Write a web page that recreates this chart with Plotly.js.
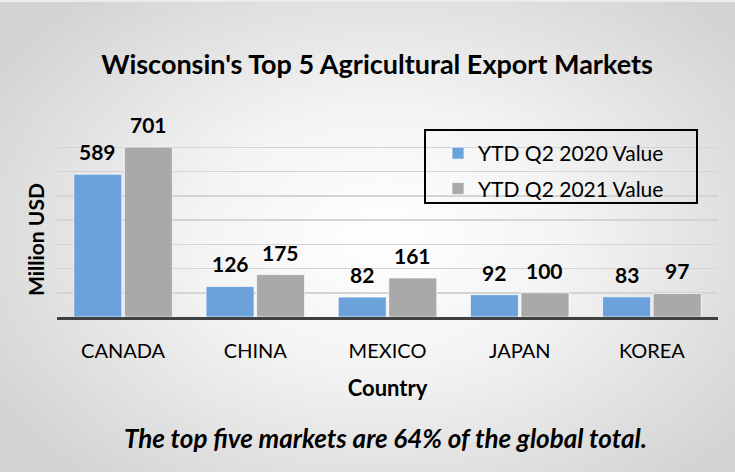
<!DOCTYPE html>
<html>
<head>
<meta charset="utf-8">
<script src="https://cdn.plot.ly/plotly-3.0.1.min.js"></script>
<style>
  html, body { margin: 0; padding: 0; background: #ffffff; }
  #wrap {
    position: absolute; left: 0; top: 0; width: 735px; height: 472px;
    background: radial-gradient(ellipse 62% 68% at 52% 50%, #ffffff 0%, #f4f4f4 40%, #d3d3d3 100%);
    border-top: 2px solid #ececec; box-sizing: border-box;
  }
  #chart { position: absolute; left: 0; top: -2px; width: 735px; height: 472px; }
</style>
</head>
<body>
<div id="wrap"><div id="chart"></div></div>
<script>
// ---- data ----
const categories = ['CANADA', 'CHINA', 'MEXICO', 'JAPAN', 'KOREA'];
const seriesNames = ['YTD Q2 2020 Value', 'YTD Q2 2021 Value'];
const values2020 = [589, 126, 82, 92, 83];
const values2021 = [701, 175, 161, 100, 97];
const yTickValues = [0, 100, 200, 300, 400, 500, 600, 700, 800];

const chartTitle = "Wisconsin's Top 5 Agricultural Export Markets";
const xTitle = 'Country';
const yTitle = 'Million USD';
const footnote = 'The top five markets are 64% of the global total.';

// ---- style ----
const colors = ['#6ca2db', '#a9a9a9'];
const FONT = 'Lato, "Open Sans", sans-serif';
const W = 735, H = 472;
const margin = {l: 57, r: 17, t: 123, b: 155};
const bargap = 0.235, bargroupgap = 0.05;

const plotW = W - margin.l - margin.r;
const plotH = H - margin.t - margin.b;
const catW = plotW / categories.length;
const slot = catW * (1 - bargap) / 2;
const px = x => (x - margin.l) / plotW;
const py = y => (H - margin.b - y) / plotH;

const traces = [values2020, values2021].map((vals, i) => ({
  type: 'bar',
  name: seriesNames[i],
  x: categories,
  y: vals,
  legendgroup: 'g' + i,
  marker: {color: colors[i], line: {color: 'rgba(255,255,255,0.7)', width: 1}},
  hoverinfo: 'skip'
}));

const annotations = [];
[values2020, values2021].forEach((vals, i) => {
  vals.forEach((v, j) => {
    annotations.push({
      x: categories[j], y: v, xref: 'x', yref: 'y',
      xshift: (i === 0 ? -1 : 1) * slot / 2,
      yshift: 8,
      text: String(v), showarrow: false, yanchor: 'bottom',
      font: {family: FONT, size: 21, color: '#000', weight: 'bold'}
    });
  });
});
annotations.push({
  text: '<b><i>' + footnote + '</i></b>',
  xref: 'paper', yref: 'paper', x: px(385), y: py(438),
  xanchor: 'center', yanchor: 'middle', showarrow: false,
  font: {family: FONT, size: 26, color: '#000'}
});
annotations.push({
  text: '<b>' + yTitle + '</b>',
  xref: 'paper', yref: 'paper', x: px(35), y: py(240),
  xanchor: 'center', yanchor: 'middle', textangle: -90, showarrow: false,
  font: {family: FONT, size: 21, color: '#000'}
});

const layout = {
  width: W, height: H, margin: margin,
  paper_bgcolor: 'rgba(0,0,0,0)', plot_bgcolor: 'rgba(0,0,0,0)',
  barmode: 'group', bargap: bargap, bargroupgap: bargroupgap,
  font: {family: FONT, color: '#000'},
  title: {
    text: '<b>' + chartTitle + '</b>',
    x: 377 / W, xanchor: 'center', y: 1 - 65 / H, yanchor: 'middle',
    font: {family: FONT, size: 27, color: '#000'}
  },
  xaxis: {
    type: 'category',
    showline: true, linecolor: '#404040', linewidth: 3,
    ticks: '', ticklabelstandoff: 14,
    tickfont: {family: FONT, size: 20, color: '#000'},
    showgrid: false, fixedrange: true,
    title: {text: '<b>' + xTitle + '</b>', standoff: 20, font: {family: FONT, size: 22, color: '#000'}}
  },
  yaxis: {
    range: [0, 800], tickvals: yTickValues, showticklabels: false,
    showgrid: true, gridcolor: '#d4d4d4', gridwidth: 1.5,
    zeroline: false, showline: false, ticks: '', fixedrange: true
  },
  showlegend: true,
  legend: {
    x: px(438), y: py(133), xanchor: 'left', yanchor: 'top',
    bgcolor: 'rgba(0,0,0,0)', borderwidth: 0,
    tracegroupgap: 5,
    font: {family: FONT, size: 21, color: '#000'}
  },
  shapes: [{
    type: 'rect', xref: 'paper', yref: 'paper',
    x0: px(425), x1: px(697), y0: py(203), y1: py(130),
    line: {color: '#000', width: 2}, fillcolor: 'rgba(0,0,0,0)'
  }],
  annotations: annotations
};

Plotly.newPlot('chart', traces, layout, {displayModeBar: false, staticPlot: true});
</script>
</body>
</html>
